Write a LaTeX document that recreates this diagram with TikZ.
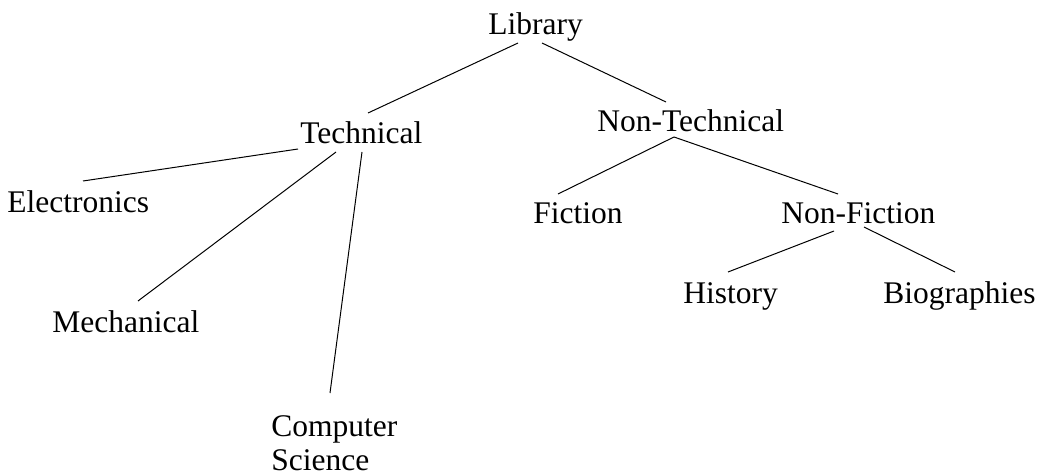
\documentclass[tikz,border=0pt]{standalone}
\usepackage{fontspec}
\setmainfont{Liberation Serif}
\usetikzlibrary{calc}
\begin{document}
\begin{tikzpicture}[x=0.5pt,y=-0.5pt,
  lbl/.style={anchor=base west,inner sep=0pt,font=\fontsize{15.75}{17}\selectfont},
  edge/.style={draw=black,line width=0.5pt}]
\useasboundingbox (0,0) rectangle (1038,476);
\node[lbl] (lib) at (488,35) {Library};
\node[lbl] (tech) at (300,143) {Technical};
\node[lbl] (nontech) at (597,132) {Non-Technical};
\node[lbl] (elec) at (7,212) {Electronics};
\node[lbl] (mech) at (52,332) {Mechanical};
\node[lbl] (cs) at (271,436) {\begin{tabular}[t]{@{}l@{}}Computer\\Science\end{tabular}};
\node[lbl] (fic) at (533,223) {Fiction};
\node[lbl] (nonfic) at (781,223) {Non-Fiction};
\node[lbl] (hist) at (683,303) {History};
\node[lbl] (bio) at (883,303) {Biographies};

\draw[edge] ($(lib.base west)+(30,8)$) -- ($(tech.base west)+(68,-30)$);
\draw[edge] ($(lib.base west)+(54,8)$) -- ($(nontech.base west)+(69,-30)$);
\draw[edge] ($(tech.base west)+(-2,6)$) -- ($(elec.base west)+(76,-31)$);
\draw[edge] ($(tech.base west)+(36,9)$) -- ($(mech.base west)+(86,-31)$);
\draw[edge] ($(tech.base west)+(62,9)$) -- ($(cs.base west)+(59,-43)$);
\draw[edge] ($(nontech.base west)+(77,5)$) -- ($(fic.base west)+(25,-29)$);
\draw[edge] ($(nontech.base west)+(77,5)$) -- ($(nonfic.base west)+(57,-29)$);
\draw[edge] ($(nonfic.base west)+(53,8)$) -- ($(hist.base west)+(45,-31)$);
\draw[edge] ($(nonfic.base west)+(83,4)$) -- ($(bio.base west)+(72,-31)$);
\end{tikzpicture}
\end{document}
